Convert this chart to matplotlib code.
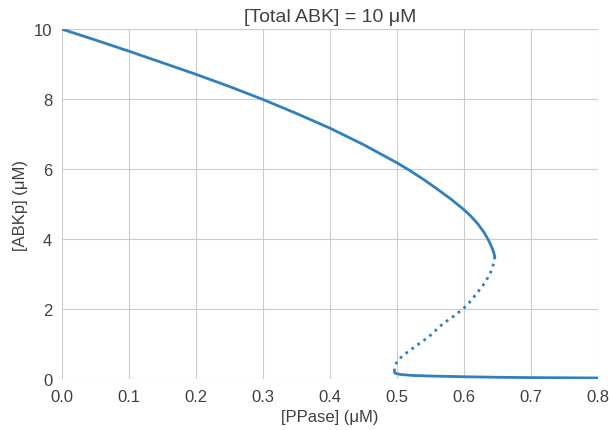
import matplotlib
matplotlib.use("Agg")
import matplotlib.pyplot as plt
import seaborn as sns

# Stable high branch
hi_ppase = [0.0, 0.05, 0.1, 0.15, 0.2, 0.25, 0.3, 0.35, 0.4, 0.45, 0.5,
            0.52, 0.54, 0.56, 0.58, 0.6, 0.61, 0.62, 0.63, 0.636, 0.641, 0.644, 0.646]
hi_abkp = [10.0, 9.69, 9.37, 9.04, 8.71, 8.36, 7.99, 7.59, 7.17, 6.70, 6.18,
           5.95, 5.70, 5.43, 5.15, 4.84, 4.66, 4.45, 4.19, 3.99, 3.79, 3.64, 3.5]

# Unstable middle branch
mid_ppase = [0.646, 0.645, 0.640, 0.632, 0.622, 0.610, 0.600, 0.585, 0.568,
             0.547, 0.528, 0.508, 0.500, 0.497, 0.496]
mid_abkp = [3.5, 3.34, 3.06, 2.77, 2.52, 2.23, 2.03, 1.80, 1.57,
            1.20, 0.94, 0.66, 0.50, 0.36, 0.23]

# Stable low branch
lo_ppase = [0.496, 0.498, 0.505, 0.515, 0.525, 0.55, 0.575, 0.6, 0.65, 0.7, 0.75, 0.8]
lo_abkp = [0.2, 0.16, 0.13, 0.115, 0.1, 0.085, 0.075, 0.065, 0.05, 0.04, 0.035, 0.03]

sns.set_style("whitegrid")
plt.rcParams['font.family'] = ['Liberation Sans', 'DejaVu Sans']

color = '#3080bd'
text_color = '#404040'

fig = plt.figure(figsize=(6.1, 4.31), dpi=100)
ax = fig.add_axes([0.1016, 0.1183, 0.8787, 0.8117])

ax.plot(hi_ppase, hi_abkp, color=color, lw=2)
ax.plot(mid_ppase, mid_abkp, color=color, lw=2, linestyle=':')
ax.plot(lo_ppase, lo_abkp, color=color, lw=2)

ax.set_xlim(0, 0.8)
ax.set_ylim(0, 10)
ax.set_xticks([0.0, 0.1, 0.2, 0.3, 0.4, 0.5, 0.6, 0.7, 0.8])
ax.set_yticks([0, 2, 4, 6, 8, 10])
ax.tick_params(labelsize=12, colors=text_color)
ax.set_xlabel('[PPase] (μM)', fontsize=12, color=text_color)
ax.set_ylabel('[ABKp] (μM)', fontsize=12, color=text_color)
ax.set_title('[Total ABK] = 10 μM', fontsize=14, color=text_color)

for s in ax.spines.values():
    s.set_visible(False)

fig.savefig('out.png', dpi=100)
